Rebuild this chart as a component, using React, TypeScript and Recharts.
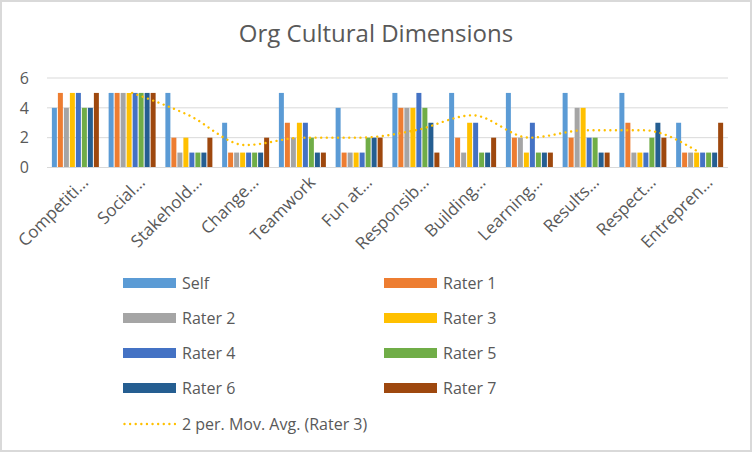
import React from 'react';
import { ComposedChart, Bar, Line, XAxis, YAxis, CartesianGrid, Legend } from 'recharts';

// Category labels as shown (already truncated on the axis)
const CATEGORIES = [
  'Competiti…',
  'Social…',
  'Stakehold…',
  'Change…',
  'Teamwork',
  'Fun at…',
  'Responsib…',
  'Building…',
  'Learning…',
  'Results…',
  'Respect…',
  'Entrepren…',
];

const SELF = [4, 5, 5, 3, 5, 4, 5, 5, 5, 5, 5, 3];
const RATER_1 = [5, 5, 2, 1, 3, 1, 4, 2, 2, 2, 3, 1];
const RATER_2 = [4, 5, 1, 1, 2, 1, 4, 1, 2, 4, 1, 1];
const RATER_3 = [5, 5, 2, 1, 3, 1, 4, 3, 1, 4, 1, 1];
const RATER_4 = [5, 5, 1, 1, 3, 1, 5, 3, 3, 2, 1, 1];
const RATER_5 = [4, 5, 1, 1, 2, 2, 4, 1, 1, 2, 2, 1];
const RATER_6 = [4, 5, 1, 1, 1, 2, 3, 1, 1, 1, 3, 1];
const RATER_7 = [5, 5, 2, 2, 1, 2, 1, 2, 1, 1, 2, 3];
// 2 period moving average trendline of Rater 3
const MOV_AVG = [null, 5, 3.5, 1.5, 2, 2, 2.5, 3.5, 2, 2.5, 2.5, 1];

const Y_TICKS = [0, 2, 4, 6];

const SERIES = [
  { key: 'self', name: 'Self', values: SELF, color: '#5B9BD5' },
  { key: 'r1', name: 'Rater 1', values: RATER_1, color: '#ED7D31' },
  { key: 'r2', name: 'Rater 2', values: RATER_2, color: '#A5A5A5' },
  { key: 'r3', name: 'Rater 3', values: RATER_3, color: '#FFC000' },
  { key: 'r4', name: 'Rater 4', values: RATER_4, color: '#4472C4' },
  { key: 'r5', name: 'Rater 5', values: RATER_5, color: '#70AD47' },
  { key: 'r6', name: 'Rater 6', values: RATER_6, color: '#255E91' },
  { key: 'r7', name: 'Rater 7', values: RATER_7, color: '#9E480E' },
];

const TREND_NAME = '2 per. Mov. Avg. (Rater 3)';
const TREND_COLOR = '#FFC000';

const FONT = '"Open Sans", "DejaVu Sans", sans-serif';
const TEXT = '#595959';
const GRID = '#D9D9D9';

const chartData = CATEGORIES.map((name, i) => {
  const row: Record<string, string | number | null> = { name, movAvg: MOV_AVG[i] };
  SERIES.forEach((s) => {
    row[s.key] = s.values[i];
  });
  return row;
});

function CategoryTick(props: any) {
  const { x, y, payload } = props;
  const ex = x + 14;
  const ey = y + 16;
  return (
    <text
      x={ex}
      y={ey}
      transform={`rotate(-45 ${ex} ${ey})`}
      textAnchor="end"
      fill={TEXT}
      fontSize={17}
      fontFamily={FONT}
    >
      {payload.value}
    </text>
  );
}

// legend rows: two columns of bars, then the trendline on its own row
const ROW_Y = [283, 318, 353, 388, 424];
const COL_X = [123, 384];

function ChartLegend() {
  const items = SERIES.map((s, i) => ({ ...s, row: Math.floor(i / 2), col: i % 2, line: false }));
  items.push({ key: 'trend', name: TREND_NAME, values: [], color: TREND_COLOR, row: 4, col: 0, line: true });
  return (
    <div style={{ position: 'relative', width: 752, height: 452 }}>
      {items.map((it) => (
        <div
          key={it.key}
          style={{
            position: 'absolute',
            left: COL_X[it.col],
            top: ROW_Y[it.row] - 12,
            height: 24,
            display: 'flex',
            alignItems: 'center',
            fontFamily: FONT,
            fontSize: 16,
            color: TEXT,
            whiteSpace: 'nowrap',
          }}
        >
          {it.line ? (
            <svg width={53} height={10} style={{ display: 'block' }}>
              <line
                x1={1.5}
                y1={5}
                x2={52}
                y2={5}
                stroke={it.color}
                strokeWidth={2.4}
                strokeDasharray="0.01 5.6"
                strokeLinecap="round"
              />
            </svg>
          ) : (
            <div style={{ width: 53, height: 10, background: it.color }} />
          )}
          <span style={{ marginLeft: 6 }}>{it.name}</span>
        </div>
      ))}
    </div>
  );
}

export default function App() {
  return (
    <div
      style={{
        position: 'absolute',
        left: 0,
        top: 0,
        width: 752,
        height: 452,
        background: '#ffffff',
        overflow: 'hidden',
      }}
    >
      <div
        style={{
          position: 'absolute',
          left: 0,
          top: 19,
          width: 752,
          textAlign: 'center',
          fontFamily: FONT,
          fontSize: 24,
          lineHeight: '28px',
          color: TEXT,
        }}
      >
        Org Cultural Dimensions
      </div>
      <ComposedChart
        width={752}
        height={452}
        data={chartData}
        margin={{ top: 78, right: 24, bottom: 254.5, left: 0 }}
        barCategoryGap="8.6%"
        barGap={1}
      >
        <CartesianGrid horizontal vertical={false} stroke={GRID} />
        <XAxis
          dataKey="name"
          interval={0}
          height={30}
          tickLine={false}
          tickSize={0}
          tickMargin={0}
          axisLine={{ stroke: GRID }}
          tick={<CategoryTick />}
        />
        <YAxis
          width={47}
          domain={[0, 6]}
          ticks={Y_TICKS}
          axisLine={false}
          tickLine={false}
          tickSize={0}
          tickMargin={18}
          tick={{ fill: TEXT, fontSize: 16, fontFamily: FONT }}
        />
        <Legend
          layout="horizontal"
          verticalAlign="middle"
          align="center"
          wrapperStyle={{ position: 'absolute', left: 0, top: 0, width: 752, height: 452 }}
          content={() => <ChartLegend />}
        />
        {SERIES.map((s) => (
          <Bar key={s.key} dataKey={s.key} name={s.name} fill={s.color} isAnimationActive={false} />
        ))}
        <Line
          dataKey="movAvg"
          name={TREND_NAME}
          type="monotone"
          stroke={TREND_COLOR}
          strokeWidth={2.4}
          strokeDasharray="0.01 5.6"
          strokeLinecap="round"
          dot={false}
          activeDot={false}
          connectNulls={false}
          isAnimationActive={false}
        />
      </ComposedChart>
      <div
        style={{
          position: 'absolute',
          inset: 0,
          border: `2px solid ${GRID}`,
          pointerEvents: 'none',
        }}
      />
    </div>
  );
}
